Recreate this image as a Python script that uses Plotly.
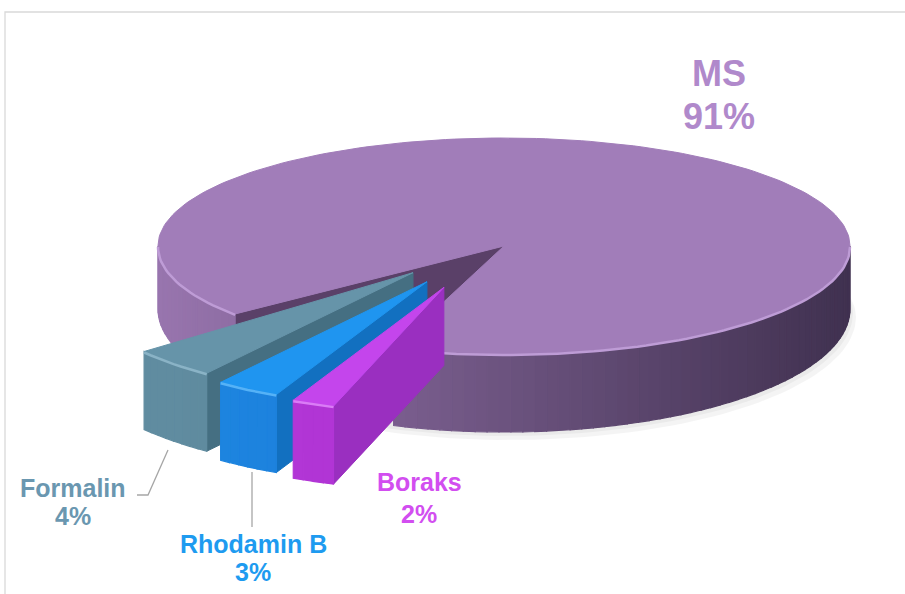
import numpy as np
import plotly.graph_objects as go

# ---------------- data ----------------
labels = ["MS", "Formalin", "Rhodamin B", "Boraks"]
values = [91, 4, 3, 2]
pct_labels = ["91%", "4%", "3%", "2%"]

# ---------------- style ----------------
top_colors = ["#A17DB9", "#6694A9", "#1F95F0", "#C445EC"]
side_light = [(152, 117, 174), (96, 140, 160), (30, 134, 226), (182, 56, 218)]
side_dark = [(64, 49, 80), (84, 124, 144), (24, 112, 200), (160, 44, 196)]
wall_colors = ["#5A4068", "#456F82", "#1270C0", "#9A2FC0"]
rim_colors = ["#BE9CD6", "#8AB3C6", "#55B2F7", "#DA7CF6"]
text_colors = ["#B089CB", "#6A97B0", "#1E9BF0", "#D24EF0"]
pulls = [0.0, 0.38, 0.43, 0.46]
ry_scale = [1.0, 1.16, 1.16, 1.16]
draw_order = [3, 2, 1, 0]          # clockwise from start angle
paint_order = [0, 1, 2, 3]

CX, CY, RX, RY = 504, 246, 346, 108
D0, D1 = 63, 15                    # side depth = D0 + D1*sin(theta) for the main body
SLICE_DEPTH = 78
START = 108.6                      # screen angle (deg, clockwise from +x)
PULL_Y = 0.9


def hexc(c):
    return "rgb(%d,%d,%d)" % c


def lerp(a, b, t):
    t = min(max(t, 0), 1)
    return tuple(int(round(a[i] + (b[i] - a[i]) * t)) for i in range(3))


def rim(theta, off, sc=1.0):
    t = np.radians(theta)
    return CX + off[0] + RX * np.cos(t), CY + off[1] + RY * sc * np.sin(t)


def depth(theta, i):
    if i == 0:
        return D0 + D1 * np.clip(np.sin(np.radians(theta)), 0, None)
    return SLICE_DEPTH + 0 * np.asarray(theta, dtype=float)


# slice angle ranges
total = float(sum(values))
ranges = {}
a = START
for i in draw_order:
    span = 360.0 * values[i] / total
    ranges[i] = (a, a + span)
    a += span

fig = go.Figure()


def poly(xs, ys, color, width=1.0):
    fig.add_trace(go.Scatter(
        x=list(xs) + [xs[0]], y=list(ys) + [ys[0]], mode="lines",
        fill="toself", fillcolor=color,
        line=dict(color=color, width=width),
        hoverinfo="skip", showlegend=False))


# soft ground shadow
tt = np.linspace(0, 360, 181)
for dx, extra, alpha in ((6, 8, 0.045), (3, 4, 0.04)):
    sx, sy = rim(tt, (dx, 0))
    poly(sx, sy + depth(tt, 0) + extra, "rgba(0,0,0,%.3f)" % alpha, 0)

for i in paint_order:
    t1, t2 = ranges[i]
    mid = np.radians((t1 + t2) / 2)
    off = (pulls[i] * RX * np.cos(mid), pulls[i] * RY * PULL_Y * np.sin(mid))
    cx, cy = CX + off[0], CY + off[1]
    sc = ry_scale[i]
    dc = D0 if i == 0 else SLICE_DEPTH

    # radial walls
    for th, visible in ((t1, np.cos(np.radians(t1)) < 0),
                        (t2, np.cos(np.radians(t2)) > 0)):
        if visible:
            rx0, ry0 = rim(th, off, sc)
            poly([cx, rx0, rx0, cx],
                 [cy, ry0, ry0 + float(depth(th, i)), cy + dc],
                 wall_colors[i])

    # outer (front) walls with horizontal gradient
    vis = []
    for k in (0, 1):
        lo, hi = max(t1, k * 360), min(t2, k * 360 + 180)
        if hi > lo:
            vis.append((lo, hi))
    for lo, hi in vis:
        n = max(2, int(np.ceil((hi - lo) / 2.0)))
        edges = np.linspace(lo, hi, n + 1)
        for j in range(n):
            seg = np.linspace(edges[j], edges[j + 1], 4)
            tx, ty = rim(seg, off, sc)
            bx, by = rim(seg[::-1], off, sc)
            by = by + depth(seg[::-1], i)
            xm = float(np.mean(tx))
            col = hexc(lerp(side_light[i], side_dark[i],
                            (xm - (CX - RX)) / (2 * RX)))
            poly(np.concatenate([tx, bx]), np.concatenate([ty, by]), col, 1.2)

    # top face
    arc = np.linspace(t1, t2, max(8, int((t2 - t1) / 1.5)))
    ax, ay = rim(arc, off, sc)
    poly(np.concatenate([[cx], ax]), np.concatenate([[cy], ay]), top_colors[i])

    # light bevel on the front rim
    for lo, hi in vis:
        seg = np.linspace(lo, hi, max(4, int((hi - lo) / 1.5)))
        hx, hy = rim(seg, off, sc)
        fig.add_trace(go.Scatter(x=hx, y=hy + 1.0, mode="lines",
                                 line=dict(color=rim_colors[i], width=2.5),
                                 hoverinfo="skip", showlegend=False))

# ---------------- labels ----------------
label_pos = {0: (719, 73, 116, 36), 1: (73, 488, 516, 25),
             2: (253, 544, 572, 25), 3: (419, 482, 514, 25)}
for i, (lx, ny, py, fs) in label_pos.items():
    for txt, yy in ((labels[i], ny), (pct_labels[i], py)):
        fig.add_annotation(x=lx, y=yy, text="<b>%s</b>" % txt, showarrow=False,
                           xanchor="center", yanchor="middle",
                           font=dict(family="Liberation Sans, Arial, sans-serif",
                                     size=fs, color=text_colors[i]))

# leader lines
fig.add_shape(type="path", path="M 168 450 L 148 495 L 137 495",
              line=dict(color="#A6A6A6", width=1.3))
fig.add_shape(type="line", x0=252, y0=472, x1=252, y1=527,
              line=dict(color="#A6A6A6", width=1.3))

# chart-area border
fig.add_shape(type="rect", x0=5, y0=12, x1=920, y1=610,
              line=dict(color="#D9D9D9", width=1.3), layer="below")

fig.update_layout(
    width=905, height=594, margin=dict(l=0, r=0, t=0, b=0),
    paper_bgcolor="white", plot_bgcolor="white",
    xaxis=dict(range=[0, 905], visible=False, fixedrange=True),
    yaxis=dict(range=[594, 0], visible=False, fixedrange=True),
    showlegend=False, hovermode=False,
)

fig.write_html("out.html",
               config={"displayModeBar": False, "staticPlot": True},
               post_script="document.body.style.margin='0px';"
                           "document.body.style.overflow='hidden';")
